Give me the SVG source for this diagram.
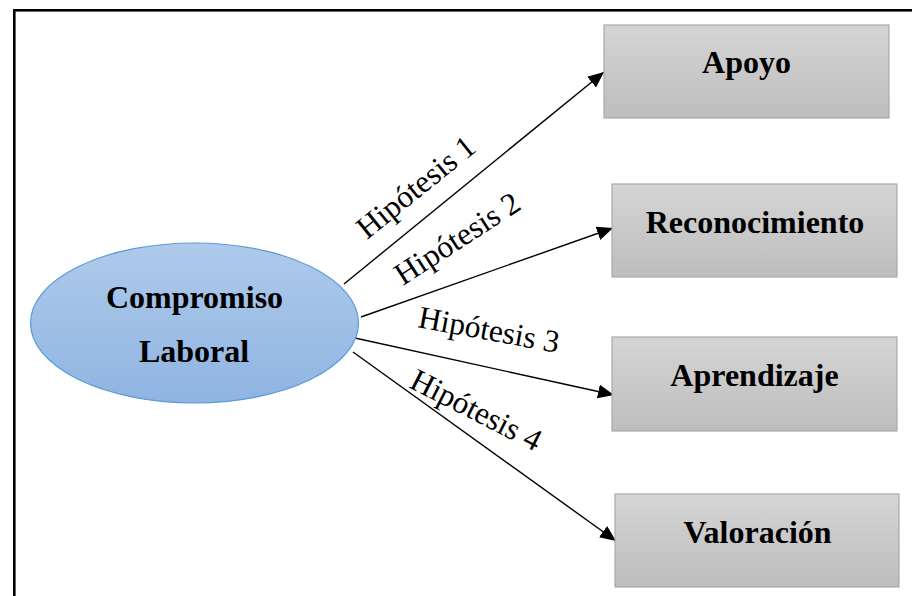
<svg xmlns="http://www.w3.org/2000/svg" width="912" height="596" viewBox="0 0 912 596">
<style>
.frame{fill:none;stroke:#000;stroke-width:2.6}
.box{fill:url(#gGray);stroke:#a8a8a8;stroke-width:1.2}
.ell{fill:url(#gBlue);stroke:#5b9bd5;stroke-width:1.2}
.nt{font-family:"Liberation Serif","Times New Roman",serif;font-weight:bold;font-size:32px;fill:#000;text-anchor:middle}
.lt{font-family:"Liberation Serif","Times New Roman",serif;font-size:31.5px;fill:#000}
.conn{stroke:#000;stroke-width:1.4;fill:none;marker-end:url(#arr)}
</style>
<defs>
<linearGradient id="gGray" x1="0" y1="0" x2="0" y2="1">
<stop offset="0" stop-color="#d5d5d5"/>
<stop offset="1" stop-color="#bdbdbd"/>
</linearGradient>
<linearGradient id="gBlue" x1="0" y1="0" x2="0" y2="1">
<stop offset="0" stop-color="#afcaea"/>
<stop offset="1" stop-color="#8fb4e2"/>
</linearGradient>
<marker id="arr" viewBox="0 0 16 14" refX="16" refY="7" markerWidth="16" markerHeight="14" markerUnits="userSpaceOnUse" orient="auto">
<path d="M0,0 L16,7 L0,14 Z" fill="#000"/>
</marker>
</defs>
<rect class="frame" x="14.3" y="10.3" width="1000" height="1000"/>
<g id="connectors">
<line class="conn" x1="344" y1="284" x2="604" y2="72"/>
<line class="conn" x1="361" y1="317" x2="613" y2="228"/>
<line class="conn" x1="355" y1="338" x2="614" y2="395"/>
<line class="conn" x1="353" y1="352" x2="616" y2="541"/>
<text class="lt" transform="translate(367,240) rotate(-39)">Hipótesis 1</text>
<text class="lt" transform="translate(403,286) rotate(-33)">Hipótesis 2</text>
<text class="lt" transform="translate(417,327) rotate(10.5)">Hipótesis 3</text>
<text class="lt" transform="translate(408,387) rotate(27)">Hipótesis 4</text>
</g>
<g id="compromiso">
<ellipse class="ell" cx="194.5" cy="323" rx="164" ry="80"/>
<text class="nt" x="194.5" y="308">Compromiso</text>
<text class="nt" x="194" y="362">Laboral</text>
</g>
<g id="apoyo">
<rect class="box" x="604" y="25" width="285" height="93"/>
<text class="nt" x="746.5" y="73">Apoyo</text>
</g>
<g id="reconocimiento">
<rect class="box" x="612" y="184" width="285" height="93"/>
<text class="nt" x="755" y="233">Reconocimiento</text>
</g>
<g id="aprendizaje">
<rect class="box" x="612" y="337" width="285" height="94"/>
<text class="nt" x="754.5" y="386">Aprendizaje</text>
</g>
<g id="valoracion">
<rect class="box" x="615" y="494" width="284" height="93"/>
<text class="nt" x="757.5" y="543">Valoración</text>
</g>
</svg>
